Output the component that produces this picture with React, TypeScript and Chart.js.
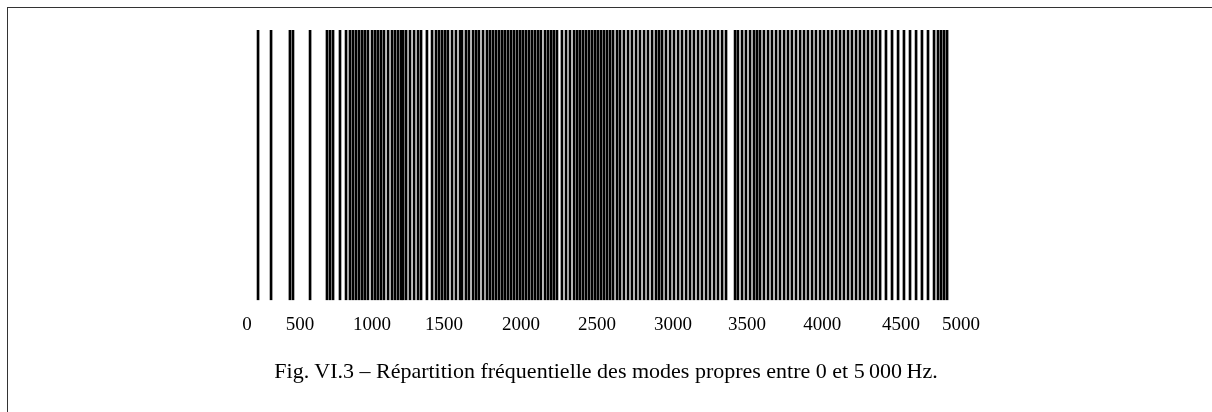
import React, { useEffect, useRef } from "react";
import { Chart, registerables } from "chart.js";

Chart.register(...registerables);

// Eigenmode frequencies (Hz)
const MODES_LOW: number[] = [245, 331, 456, 476, 589, 701, 721, 741, 787, 827];
const MODES_1000: number[] = [853, 873, 893, 913, 933, 952, 972, 999, 1019, 1038, 1058, 1078, 1105, 1131, 1151, 1171, 1191, 1204, 1224, 1250, 1277, 1303, 1323, 1362, 1396, 1422, 1442, 1462, 1482];
const MODES_2000: number[] = [1501, 1528, 1554, 1581, 1594, 1620, 1640, 1667, 1687, 1706, 1733, 1759, 1779, 1799, 1819, 1839, 1859, 1878, 1898, 1918, 1938, 1958, 1978, 1997, 2017, 2037, 2057, 2077, 2097, 2116, 2143, 2163, 2183, 2202, 2222, 2255, 2282, 2308, 2335, 2355, 2374, 2394, 2414, 2434, 2454, 2474, 2493];
const MODES_3000: number[] = [2513, 2533, 2553, 2573, 2593, 2619, 2639, 2665, 2692, 2718, 2745, 2771, 2798, 2824, 2851, 2877, 2897, 2917, 2943, 2970, 2996, 3023, 3049, 3076, 3102, 3128, 3155, 3181, 3208, 3234, 3261, 3287, 3314, 3340, 3400, 3419, 3446, 3472, 3499];
const MODES_4000: number[] = [3525, 3545, 3565, 3591, 3618, 3644, 3671, 3697, 3724, 3750, 3776, 3803, 3830, 3856, 3882, 3909, 3935, 3962, 3988, 4015, 4041, 4068, 4094, 4120, 4147, 4173, 4200, 4226, 4253, 4279, 4306, 4332, 4359, 4398, 4438, 4478, 4517, 4557, 4597, 4636, 4676, 4716, 4742, 4762, 4782, 4802];

// Axis labels and where they sit along the frequency axis
const TICK_LABELS: string[] = ["0", "500", "1000", "1500", "2000", "2500", "3000", "3500", "4000", "4500", "5000"];
const TICK_POSITIONS: number[] = [172, 522, 999, 1475, 1984, 2487, 2990, 3479, 3977, 4498, 4894];

const CAPTION = "Fig. VI.3 \u2013 R\u00e9partition fr\u00e9quentielle des modes propres entre 0 et 5\u2009000\u2009Hz.";

export default function App() {
  const ref = useRef<HTMLCanvasElement | null>(null);

  useEffect(() => {
    if (!ref.current) return;
    const modes = [...MODES_LOW, ...MODES_1000, ...MODES_2000, ...MODES_3000, ...MODES_4000];
    const chart = new Chart(ref.current, {
      type: "bar",
      data: {
        datasets: [
          {
            data: modes.map((f) => ({ x: f, y: 1 })),
            backgroundColor: "#000",
            borderWidth: 0,
            barThickness: 2,
          } as any,
        ],
      },
      options: {
        animation: false,
        responsive: false,
        devicePixelRatio: 1,
        layout: { padding: { left: 221, right: 235, top: 30, bottom: 71 } },
        plugins: { legend: { display: false }, tooltip: { enabled: false }, title: { display: false } },
        scales: {
          x: {
            type: "linear",
            min: 0,
            max: 5000,
            offset: false,
            grid: { display: false },
            border: { display: false },
            afterBuildTicks: (scale: any) => {
              scale.ticks = TICK_POSITIONS.map((v) => ({ value: v }));
            },
            ticks: {
              autoSkip: false,
              maxRotation: 0,
              padding: 5,
              color: "#000",
              font: { family: "'Liberation Serif', serif", size: 19 },
              callback: (_v: any, i: number) => TICK_LABELS[i],
            },
          },
          y: { display: false, min: 0, max: 1 },
        },
      },
    });
    return () => chart.destroy();
  }, []);

  return (
    <div style={{ position: "absolute", left: 0, top: 0, width: 1212, height: 412, overflow: "hidden", background: "#fff" }}>
      <div
        style={{
          position: "absolute",
          left: 7,
          top: 7,
          width: 1400,
          height: 600,
          borderTop: "1px solid #333",
          borderLeft: "1px solid #333",
        }}
      />
      <canvas ref={ref} width={1212} height={412} style={{ position: "absolute", left: 0, top: 0, width: 1212, height: 412 }} />
      <div
        style={{
          position: "absolute",
          left: 0,
          top: 357,
          width: 1212,
          textAlign: "center",
          fontFamily: "'Liberation Serif', serif",
          fontSize: 22,
          lineHeight: "28px",
          color: "#000",
        }}
      >
        {CAPTION}
      </div>
    </div>
  );
}
